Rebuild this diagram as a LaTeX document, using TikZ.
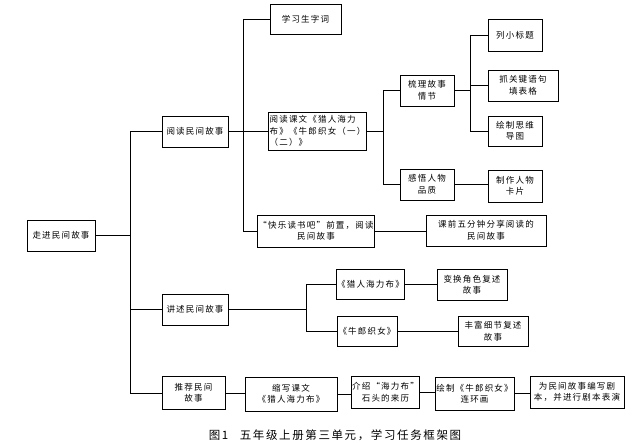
\documentclass[tikz,border=0pt]{standalone}
\usepackage{fontspec}
\setmainfont{Noto Sans CJK SC}[LetterSpace=14]
\tikzset{
  box/.style={draw,line width=.8pt,align=center,inner sep=1pt,
    font=\fontsize{8.5}{11.5}\selectfont},
  link/.style={line width=.8pt}
}
\begin{document}
\begin{tikzpicture}[x=1pt,y=-1pt,line width=.8pt]
  \useasboundingbox (0,0) rectangle (638,443);
  % trunk positions
  \coordinate (t1) at (130,0);
  \coordinate (t2) at (243,0);
  \coordinate (t3) at (383,0);
  \coordinate (t4) at (470,0);
  \coordinate (t5) at (306,0);
  % first level
  \node[box,minimum width=68,minimum height=31] (root) at (61,235.5) {走进民间故事};
  \node[box,minimum width=66,minimum height=31] (read) at (195,131.5) {阅读民间故事};
  \node[box,minimum width=66,minimum height=31] (tell) at (195,309.5) {讲述民间故事};
  \node[box,minimum width=63,minimum height=33] (rec) at (193.5,393) {推荐民间\\故事};
  % reading branch
  \node[box,minimum width=71,minimum height=30] (learn) at (305.5,19) {学习生字词};
  \node[box,minimum width=96,minimum height=38,align=left] (text) at (317.5,131)
    {阅读课文《猎人海力\\布》《牛郎织女（一）\\（二）》};
  \node[box,minimum width=94,minimum height=32] (happy) at (316,231) {“快乐读书吧”前置，阅读\\民间故事};
  \node[box,minimum width=120,minimum height=31] (share) at (486,230.5) {课前五分钟分享阅读的\\民间故事};
  \node[box,minimum width=54,minimum height=31] (sort) at (427,90.5) {梳理故事\\情节};
  \node[box,minimum width=54,minimum height=31] (feel) at (427,184.5) {感悟人物\\品质};
  \node[box,minimum width=54,minimum height=32] (title) at (515,35) {列小标题};
  \node[box,minimum width=70,minimum height=31] (key) at (523,85.5) {抓关键语句\\填表格};
  \node[box,minimum width=54,minimum height=30] (map) at (515,131) {绘制思维\\导图};
  \node[box,minimum width=54,minimum height=32] (card) at (515,186) {制作人物\\卡片};
  % telling branch
  \node[box,minimum width=67,minimum height=30] (hunter) at (370.5,284) {《猎人海力布》};
  \node[box,minimum width=70,minimum height=31] (swap) at (472,284.5) {变换角色复述\\故事};
  \node[box,minimum width=60,minimum height=30] (cow) at (367,331) {《牛郎织女》};
  \node[box,minimum width=70,minimum height=30] (rich) at (493,331) {丰富细节复述\\故事};
  % recommending branch
  \node[box,minimum width=92,minimum height=34] (brief) at (291,394) {缩写课文\\《猎人海力布》};
  \node[box,minimum width=67,minimum height=32] (intro) at (385.5,392) {介绍“海力布”\\石头的来历};
  \node[box,minimum width=79,minimum height=33] (comic) at (474.5,393.5) {绘制《牛郎织女》\\连环画};
  \node[box,minimum width=94,minimum height=32] (play) at (577,392) {为民间故事编写剧\\本，并进行剧本表演};
  % connectors
  \draw[link] (root.east) -- (t1 |- root.east);
  \draw[link] (t1 |- read.west) -- (t1 |- rec.west);
  \draw[link] (t1 |- read.west) -- (read.west);
  \draw[link] (t1 |- tell.west) -- (tell.west);
  \draw[link] (t1 |- rec.west) -- (rec.west);
  \draw[link] (read.east) -- (t2 |- read.east);
  \draw[link] (t2 |- learn.west) -- (t2 |- happy.west);
  \draw[link] (t2 |- learn.west) -- (learn.west);
  \draw[link] (t2 |- text.west) -- (text.west);
  \draw[link] (t2 |- happy.west) -- (happy.west);
  \draw[link] (happy.east) -- (happy.east -| share.west);
  \draw[link] (text.east) -- (t3 |- text.east);
  \draw[link] (t3 |- sort.west) -- (t3 |- feel.west);
  \draw[link] (t3 |- sort.west) -- (sort.west);
  \draw[link] (t3 |- feel.west) -- (feel.west);
  \draw[link] (feel.east) -- (feel.east -| card.west);
  \draw[link] (sort.east) -- (t4 |- sort.east);
  \draw[link] (t4 |- title.west) -- (t4 |- map.west);
  \draw[link] (t4 |- title.west) -- (title.west);
  \draw[link] (t4 |- key.west) -- (key.west);
  \draw[link] (t4 |- map.west) -- (map.west);
  \draw[link] (tell.east) -- (t5 |- tell.east);
  \draw[link] (t5 |- hunter.west) -- (t5 |- cow.west);
  \draw[link] (t5 |- hunter.west) -- (hunter.west);
  \draw[link] (t5 |- cow.west) -- (cow.west);
  \draw[link] (hunter.east) -- (hunter.east -| swap.west);
  \draw[link] (cow.east) -- (cow.east -| rich.west);
  \draw[link] (rec.east) -- (rec.east -| brief.west);
  \draw[link] (brief.east) -- (brief.east -| intro.west);
  \draw[link] (intro.east) -- (intro.east -| comic.west);
  \draw[link] (comic.east) -- (comic.east -| play.west);
  % caption
  \node[font=\fontsize{11.5}{13}\selectfont] (cap) at (335,435) {图1\quad 五年级上册第三单元，学习任务框架图};
\end{tikzpicture}
\end{document}
